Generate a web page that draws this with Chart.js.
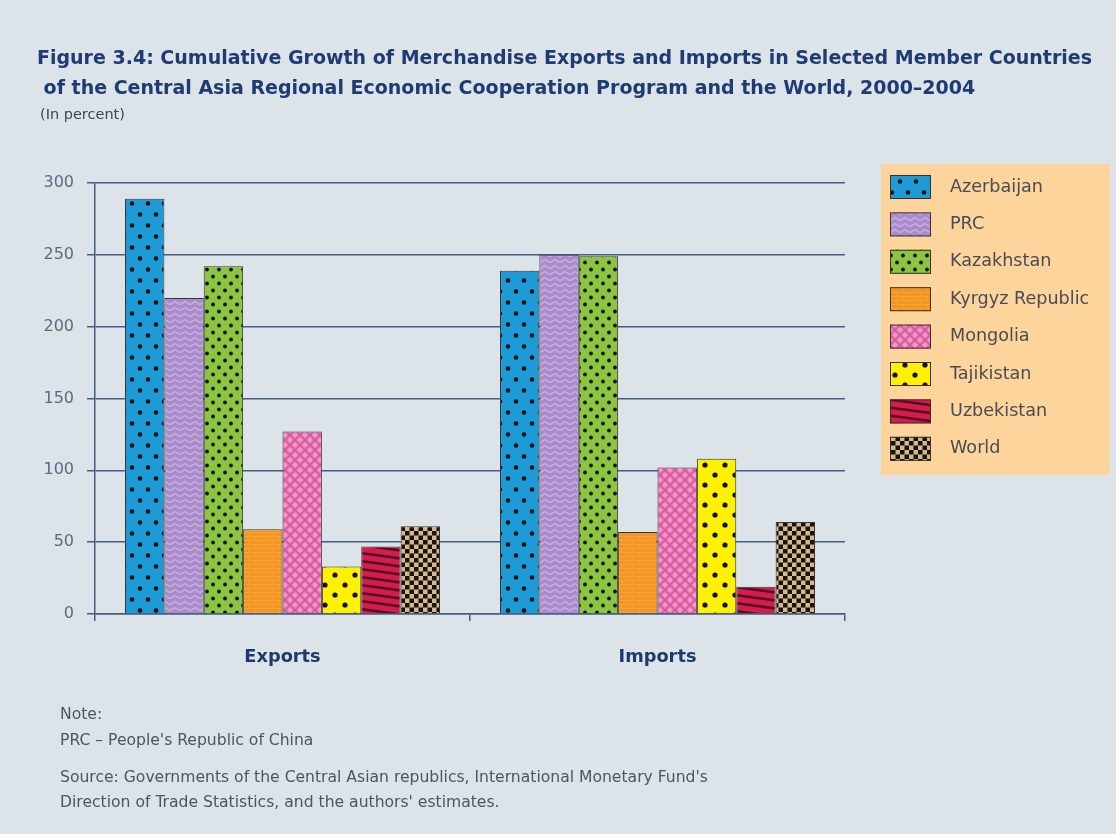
<!DOCTYPE html>
<html>
<head>
<meta charset="utf-8">
<script src="https://cdn.jsdelivr.net/npm/chart.js@4"></script>
<style>
  body { margin: 0; background: #dce3e9; }
  #page { position: relative; width: 1116px; height: 834px; overflow: hidden; font-family: "DejaVu Sans", sans-serif; }
  #dataChart { position: absolute; left: 0; top: 0; }
  .title { position: absolute; left: 37px; top: 42px; font-weight: bold; font-size: 19px; line-height: 30px; color: #1e3c73; white-space: pre; }
  .unit { position: absolute; left: 40px; top: 105px; font-size: 14.5px; line-height: 18px; color: #3d4756; }
  .notes { position: absolute; left: 60px; font-size: 15.6px; line-height: 26px; color: #4b5563; white-space: pre; }
</style>
</head>
<body>
<div id="page">
  <canvas id="dataChart" width="1116" height="834"></canvas>
  <div class="title">Figure 3.4: Cumulative Growth of Merchandise Exports and Imports in Selected Member Countries
 of the Central Asia Regional Economic Cooperation Program and the World, 2000–2004</div>
  <div class="unit">(In percent)</div>
  <div class="notes" style="top:701px">Note:
PRC – People's Republic of China</div>
  <div class="notes" style="top:765px; line-height:25px">Source: Governments of the Central Asian republics, International Monetary Fund's
Direction of Trade Statistics, and the authors' estimates.</div>
</div>
<script>
const categories = ['Exports', 'Imports'];
const countries = ['Azerbaijan', 'PRC', 'Kazakhstan', 'Kyrgyz Republic', 'Mongolia', 'Tajikistan', 'Uzbekistan', 'World'];
const exportsGrowth = [289, 220, 242, 59, 127, 33, 47, 61];
const importsGrowth = [239, 250, 249, 57, 102, 108, 19, 64];

const axisColor = '#445d80';
const labelFont = '"DejaVu Sans", sans-serif';

// small tiles used as bar fills
function makePattern(w, h, paint) {
  const c = document.createElement('canvas');
  c.width = w;
  c.height = h;
  const g = c.getContext('2d');
  paint(g, w, h);
  return g.createPattern(c, 'repeat');
}

function dots(g, pts, r, color) {
  g.fillStyle = color;
  pts.forEach(p => {
    g.beginPath();
    g.arc(p[0], p[1], r, 0, Math.PI * 2);
    g.fill();
  });
}

const patterns = [
  // Azerbaijan: cyan, staggered black dots
  makePattern(16, 22, (g, w, h) => {
    g.fillStyle = '#1d9bd7'; g.fillRect(0, 0, w, h);
    dots(g, [[4, 5.5], [12, 16.5]], 2.3, '#111');
  }),
  // PRC: lavender with light zigzags
  makePattern(10, 6, (g, w, h) => {
    g.fillStyle = '#ab8ccb'; g.fillRect(0, 0, w, h);
    g.strokeStyle = '#c8aee2'; g.lineWidth = 1.5;
    g.beginPath();
    g.moveTo(0, 4.5); g.lineTo(5, 1.5); g.lineTo(10, 4.5);
    g.stroke();
  }),
  // Kazakhstan: green, dense dots
  makePattern(12, 14, (g, w, h) => {
    g.fillStyle = '#8cc540'; g.fillRect(0, 0, w, h);
    dots(g, [[3, 3.5], [9, 10.5]], 1.9, '#111');
  }),
  // Kyrgyz Republic: orange, faint bricks
  makePattern(12, 8, (g, w, h) => {
    g.fillStyle = '#f3951f'; g.fillRect(0, 0, w, h);
    g.strokeStyle = '#f5a33c'; g.lineWidth = 1;
    g.beginPath();
    g.moveTo(0, 0.5); g.lineTo(w, 0.5);
    g.moveTo(0, 4.5); g.lineTo(w, 4.5);
    g.moveTo(3.5, 0.5); g.lineTo(3.5, 4.5);
    g.moveTo(9.5, 4.5); g.lineTo(9.5, 8);
    g.stroke();
  }),
  // Mongolia: pink lattice with light cells
  makePattern(10, 10, (g, w, h) => {
    g.fillStyle = '#c95596'; g.fillRect(0, 0, w, h);
    g.fillStyle = '#ee78b6';
    g.beginPath();
    g.moveTo(5, 0.8); g.lineTo(9.2, 5); g.lineTo(5, 9.2); g.lineTo(0.8, 5); g.closePath();
    g.fill();
    g.beginPath(); g.moveTo(0, 0); g.lineTo(4.2, 0); g.lineTo(0, 4.2); g.closePath(); g.fill();
    g.beginPath(); g.moveTo(10, 0); g.lineTo(5.8, 0); g.lineTo(10, 4.2); g.closePath(); g.fill();
    g.beginPath(); g.moveTo(0, 10); g.lineTo(4.2, 10); g.lineTo(0, 5.8); g.closePath(); g.fill();
    g.beginPath(); g.moveTo(10, 10); g.lineTo(5.8, 10); g.lineTo(10, 5.8); g.closePath(); g.fill();
    dots(g, [[5, 5], [0, 0], [10, 0], [0, 10], [10, 10]], 2, '#f49bc9');
  }),
  // Tajikistan: yellow, sparse dots
  makePattern(20, 20, (g, w, h) => {
    g.fillStyle = '#fff100'; g.fillRect(0, 0, w, h);
    dots(g, [[5, 5], [15, 15]], 2.6, '#111');
  }),
  // Uzbekistan: crimson with slanted dark stripes
  makePattern(60, 8, (g, w, h) => {
    g.fillStyle = '#d31d4d'; g.fillRect(0, 0, w, h);
    g.strokeStyle = '#5a0c22'; g.lineWidth = 2.6;
    g.beginPath();
    for (let k = -1; k <= 1; k++) {
      g.moveTo(0, 1 + k * 8); g.lineTo(w, 9 + k * 8);
    }
    g.stroke();
  }),
  // World: tan and black checks
  makePattern(9, 9, (g, w, h) => {
    g.fillStyle = '#d6b88d'; g.fillRect(0, 0, w, h);
    g.fillStyle = '#161310';
    g.fillRect(0, 0, 4.5, 4.5);
    g.fillRect(4.5, 4.5, 4.5, 4.5);
  })
];

// legend drawn in its own peach panel to the right of the plot
const boxLegend = {
  id: 'boxLegend',
  afterDraw(chart) {
    const ctx = chart.ctx;
    ctx.save();
    ctx.fillStyle = '#fdd49c';
    ctx.fillRect(881, 164, 229, 311);
    chart.data.datasets.forEach((ds, i) => {
      const y = 175 + i * 37.4;
      ctx.fillStyle = ds.backgroundColor;
      ctx.fillRect(890, y, 41, 24);
      ctx.strokeStyle = '#3b3026';
      ctx.lineWidth = 1;
      ctx.strokeRect(890.5, y + 0.5, 40, 23);
      ctx.fillStyle = '#474c55';
      ctx.font = '17.6px ' + labelFont;
      ctx.textBaseline = 'middle';
      ctx.fillText(ds.label, 950, y + 12);
    });
    ctx.restore();
  }
};

new Chart(document.getElementById('dataChart').getContext('2d'), {
  type: 'bar',
  data: {
    labels: categories,
    datasets: countries.map((name, i) => ({
      label: name,
      data: [exportsGrowth[i], importsGrowth[i]],
      backgroundColor: patterns[i],
      borderColor: '#3a3436',
      borderWidth: 1,
      categoryPercentage: 0.84,
      barPercentage: 1
    }))
  },
  options: {
    responsive: false,
    animation: false,
    devicePixelRatio: 1,
    layout: {
      padding: { left: 0, top: 183, right: 271, bottom: 160 }
    },
    plugins: {
      legend: { display: false },
      tooltip: { enabled: false }
    },
    scales: {
      x: {
        afterFit: scale => { scale.height = 60; },
        grid: {
          drawOnChartArea: false,
          drawTicks: true,
          tickLength: 7,
          color: axisColor,
          lineWidth: 1.5
        },
        border: { display: true, color: axisColor, width: 1.5 },
        ticks: {
          padding: 26,
          color: '#1e3a6b',
          font: { family: labelFont, size: 17.8, weight: 'bold' }
        }
      },
      y: {
        min: 0,
        max: 300,
        afterFit: scale => { scale.width = 95; },
        grid: {
          color: axisColor,
          lineWidth: 1.5,
          tickLength: 8
        },
        border: { display: true, color: axisColor, width: 1.5 },
        ticks: {
          stepSize: 50,
          padding: 13,
          color: '#5b6a80',
          font: { family: labelFont, size: 16 }
        }
      }
    }
  },
  plugins: [boxLegend]
});
</script>
</body>
</html>
